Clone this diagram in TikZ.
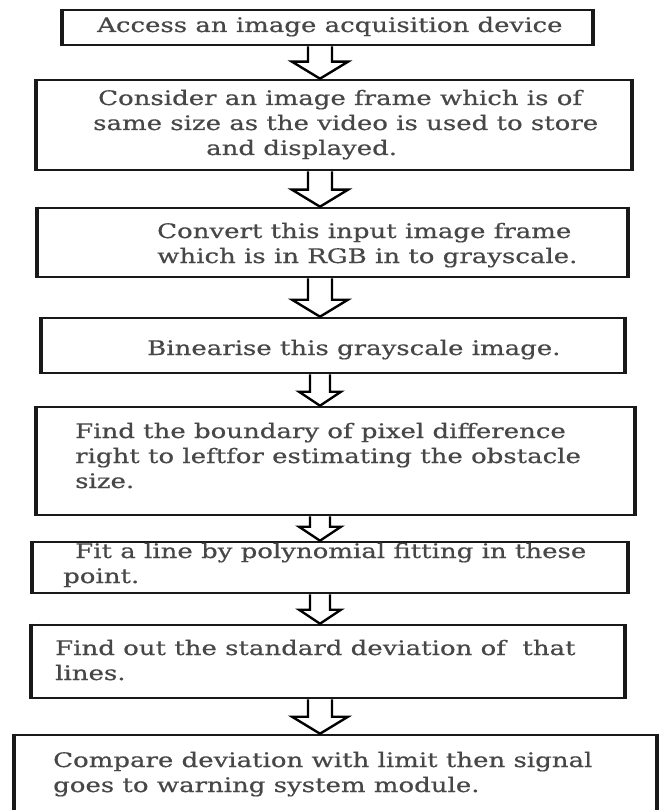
\documentclass[tikz,border=0pt]{standalone}
\usepackage{fontspec}
\setmainfont{DejaVu Serif}[FakeStretch=1.3, FakeBold=0.6]
\usetikzlibrary{calc}

\tikzset{
  stepbox/.style 2 args={draw=black!90, line width=2.6pt, inner sep=0pt,
    minimum width=#1, minimum height=#2,
    append after command={(\tikzlastnode.north west) edge[draw=black!90, line width=4.2pt] (\tikzlastnode.south west)
      (\tikzlastnode.north east) edge[draw=black!90, line width=4.2pt] (\tikzlastnode.south east)}},
  steptext/.style={anchor=base west, align=left, inner sep=0pt, text=black!72,
    font=\fontsize{20}{25}\selectfont},
  hollow/.style n args={3}{draw=black, line width=2.4pt, line join=miter,
    to path={let \p1=(\tikztostart), \p2=(\tikztotarget) in
      (\x1-#1,\y1) -- (\x1-#1,\y2+#3) -- (\x1-#2,\y2+#3) -- (\x1,\y2)
      -- (\x1+#2,\y2+#3) -- (\x1+#1,\y2+#3) -- (\x1+#1,\y1)}},
  widearrow/.style={hollow={12pt}{28pt}{17pt}},
  slimarrow/.style={hollow={10pt}{21pt}{14pt}}
}

\begin{document}
\begin{tikzpicture}[x=1pt, y=-1pt]
\useasboundingbox (0,0) rectangle (659,810);
\clip (0,0) rectangle (659,810);

% boxes
\node[stepbox={529pt}{35pt}]  (b1) at (327.5,27.5) {};
\node[stepbox={594pt}{90pt}]  (b2) at (334,125) {};
\node[stepbox={589pt}{69pt}]  (b3) at (332.5,242.5) {};
\node[stepbox={582pt}{55pt}]  (b4) at (333,345.5) {};
\node[stepbox={597pt}{108pt}] (b5) at (335.5,461) {};
\node[stepbox={594pt}{51pt}]  (b6) at (330,567.5) {};
\node[stepbox={592pt}{73pt}]  (b7) at (328,661.5) {};
\node[stepbox={641pt}{100pt}] (b8) at (335.5,785) {};

% texts (anchored on the last baseline)
\node[steptext] (t1) at (97,32) {Access an image acquisition device};
\node[steptext] (t2) at (93,155) {\hspace*{5pt}Consider an image frame which is of\\
  same size as the video is used to store\\\hspace*{113pt}and displayed.};
\node[steptext] (t3) at (157,263) {Convert this input image frame\\
  which is in RGB in to grayscale.};
\node[steptext] (t4) at (147,355) {Binearise this grayscale image.};
\node[steptext] (t5) at (75,488) {Find the boundary of pixel difference\\
  right to leftfor estimating the obstacle\\size.};
\node[steptext] (t6) at (63,583) {\hspace*{12pt}Fit a line by polynomial fitting in these\\point.};
\node[steptext] (t7) at (55,680) {Find out the standard deviation of~ that\\lines.};
\node[steptext] (t8) at (53,792) {Compare deviation with limit then signal\\
  goes to warning system module.};

% arrows
\coordinate (axis) at (320,0);
\draw[widearrow] (b1.south -| axis) to (b2.north -| axis);
\draw[widearrow] (b2.south -| axis) to (b3.north -| axis);
\draw[widearrow] (b3.south -| axis) to (b4.north -| axis);
\draw[slimarrow] (b4.south -| axis) to (b5.north -| axis);
\draw[slimarrow] (b5.south -| axis) to (b6.north -| axis);
\draw[slimarrow] (b6.south -| axis) to (b7.north -| axis);
\draw[widearrow] (b7.south -| axis) to (b8.north -| axis);
\end{tikzpicture}
\end{document}
